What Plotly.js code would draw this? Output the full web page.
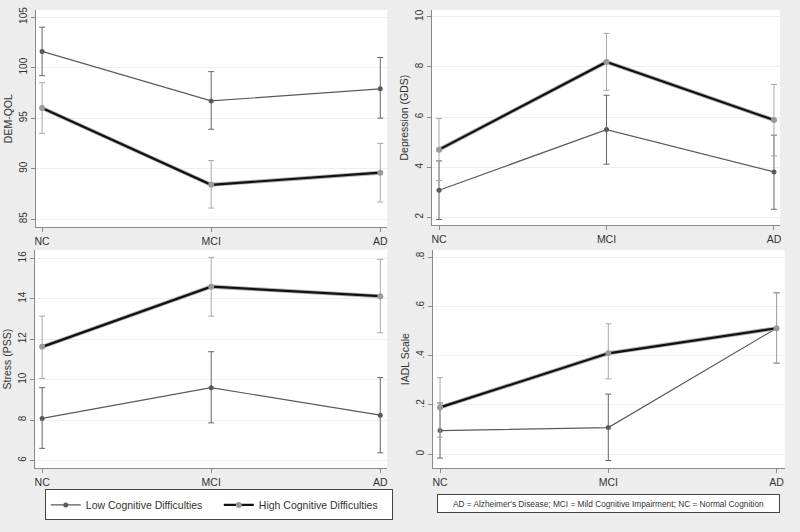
<!DOCTYPE html>
<html>
<head>
<meta charset="utf-8">
<script src="https://cdn.plot.ly/plotly-3.0.1.min.js"></script>
<style>
body { margin: 0; background: #ededed; }
#chart { width: 800px; height: 532px; }
</style>
</head>
<body>
<div id="chart"></div>
<script>
var cats = ['NC', 'MCI', 'AD'];
var groups = ['Low Cognitive Difficulties', 'High Cognitive Difficulties'];

// DEM-QOL (means, upper and lower limits)
var qolLow = [101.6, 96.7, 97.9];
var qolLowUp = [104.0, 99.6, 101.0];
var qolLowDn = [99.2, 93.9, 95.0];
var qolHigh = [96.0, 88.4, 89.6];
var qolHighUp = [98.5, 90.8, 92.5];
var qolHighDn = [93.5, 86.1, 86.7];

// Depression (GDS)
var gdsLow = [3.08, 5.5, 3.81];
var gdsLowUp = [4.25, 6.87, 5.28];
var gdsLowDn = [1.91, 4.12, 2.32];
var gdsHigh = [4.7, 8.2, 5.88];
var gdsHighUp = [5.94, 9.34, 7.3];
var gdsHighDn = [3.47, 7.07, 4.45];

// Stress (PSS)
var pssLow = [8.08, 9.6, 8.24];
var pssLowUp = [9.6, 11.38, 10.1];
var pssLowDn = [6.6, 7.86, 6.38];
var pssHigh = [11.62, 14.6, 14.13];
var pssHighUp = [13.14, 16.05, 15.95];
var pssHighDn = [10.06, 13.14, 12.32];

// IADL Scale
var iadlLow = [0.096, 0.108, 0.512];
var iadlLowUp = [0.208, 0.244, 0.656];
var iadlLowDn = [-0.016, -0.026, 0.37];
var iadlHigh = [0.19, 0.41, 0.512];
var iadlHighUp = [0.311, 0.53, 0.656];
var iadlHighDn = [0.069, 0.306, 0.37];

var qolTicks = [85, 90, 95, 100, 105];
var gdsTicks = [2, 4, 6, 8, 10];
var pssTicks = [6, 8, 10, 12, 14, 16];
var iadlTicks = [0, 0.2, 0.4, 0.6, 0.8];
var iadlTickText = ['0', '.2', '.4', '.6', '.8'];

var noteText = "AD = Alzheimer's Disease; MCI = Mild Cognitive Impairment; NC = Normal Cognition";

function diff(a, b) {
	var out = [];
	for (var i = 0; i < a.length; i++) {
		out.push(Math.abs(a[i] - b[i]));
	}
	return out;
}

function panelTraces(n, low, lowUp, lowDn, high, highUp, highDn, legend) {
	var xa = 'x' + (n == 1 ? '' : n);
	var ya = 'y' + (n == 1 ? '' : n);
	var lowTrace = {
		x: cats, y: low, xaxis: xa, yaxis: ya,
		type: 'scatter', mode: 'lines+markers',
		name: groups[0], legendgroup: 'low', showlegend: legend,
		line: {color: '#5a5a5a', width: 1.2},
		marker: {color: '#5a5a5a', size: 5},
		error_y: {type: 'data', symmetric: false, array: diff(lowUp, low), arrayminus: diff(low, lowDn),
			color: '#666666', thickness: 1, width: 3}
	};
	// grey line under the black one, the way the original draws the high group
	var highShadow = {
		x: cats, y: high, xaxis: xa, yaxis: ya,
		type: 'scatter', mode: 'lines',
		name: groups[1], legendgroup: 'high', showlegend: false, hoverinfo: 'skip',
		line: {color: '#b0b0b0', width: 4},
		error_y: {type: 'data', symmetric: false, array: diff(highUp, high), arrayminus: diff(high, highDn),
			color: '#a8a8a8', thickness: 1, width: 3}
	};
	var highTrace = {
		x: cats, y: high, xaxis: xa, yaxis: ya,
		type: 'scatter', mode: 'lines+markers',
		name: groups[1], legendgroup: 'high', showlegend: legend,
		line: {color: '#111111', width: 2.2},
		marker: {color: '#9a9a9a', size: 6}
	};
	return [lowTrace, highShadow, highTrace];
}

function xAxis(domain, range, anchor) {
	return {
		domain: domain, range: range, anchor: anchor, type: 'category',
		showline: true, linecolor: '#8a8a8a', linewidth: 1,
		ticks: 'outside', ticklen: 4, tickcolor: '#8a8a8a',
		showgrid: false, zeroline: false,
		tickfont: {family: 'Liberation Sans, Arial', size: 10.5, color: '#333'}
	};
}

function yAxis(domain, range, anchor, vals, text, title) {
	return {
		domain: domain, range: range, anchor: anchor,
		tickvals: vals, ticktext: text, tickangle: -90,
		showline: true, linecolor: '#8a8a8a', linewidth: 1,
		ticks: 'outside', ticklen: 4, tickcolor: '#8a8a8a',
		showgrid: true, gridcolor: '#efefef', zeroline: false,
		tickfont: {family: 'Liberation Sans, Arial', size: 10, color: '#333'},
		title: {text: title, standoff: 3, font: {family: 'Liberation Sans, Arial', size: 10.5, color: '#333'}}
	};
}

var data = [];
data = data.concat(panelTraces(1, qolLow, qolLowUp, qolLowDn, qolHigh, qolHighUp, qolHighDn, true));
data = data.concat(panelTraces(2, gdsLow, gdsLowUp, gdsLowDn, gdsHigh, gdsHighUp, gdsHighDn, false));
data = data.concat(panelTraces(3, pssLow, pssLowUp, pssLowDn, pssHigh, pssHighUp, pssHighDn, false));
data = data.concat(panelTraces(4, iadlLow, iadlLowUp, iadlLowDn, iadlHigh, iadlHighUp, iadlHighDn, false));

var layout = {
	width: 800, height: 532,
	margin: {l: 0, r: 0, t: 0, b: 0},
	paper_bgcolor: '#ededed',
	plot_bgcolor: '#ffffff',
	font: {family: 'Liberation Sans, Arial', color: '#333'},
	showlegend: true,
	legend: {
		orientation: 'h', x: 0.056, y: 0.08, xanchor: 'left', yanchor: 'top',
		bgcolor: '#ffffff', bordercolor: '#444', borderwidth: 1,
		entrywidth: 128, entrywidthmode: 'pixels',
		font: {size: 10.5, color: '#333'}, traceorder: 'normal'
	},
	xaxis: xAxis([0.045, 0.484], [-0.036, 2.041], 'y'),
	yaxis: yAxis([0.573, 0.981], [84.21, 105.69], 'x', qolTicks, qolTicks.map(String), 'DEM-QOL'),
	xaxis2: xAxis([0.54, 0.975], [-0.042, 2.036], 'y2'),
	yaxis2: yAxis([0.577, 0.981], [1.69, 10.27], 'x2', gdsTicks, gdsTicks.map(String), 'Depression (GDS)'),
	xaxis3: xAxis([0.044, 0.484], [-0.041, 2.041], 'y3'),
	yaxis3: yAxis([0.12, 0.53], [5.62, 16.41], 'x3', pssTicks, pssTicks.map(String), 'Stress (PSS)'),
	xaxis4: xAxis([0.541, 0.981], [-0.043, 2.049], 'y4'),
	yaxis4: yAxis([0.12, 0.53], [-0.057, 0.83], 'x4', iadlTicks, iadlTickText, 'IADL Scale'),
	annotations: [{
		text: noteText, xref: 'paper', yref: 'paper', x: 0.7606, y: 0.0536,
		xanchor: 'center', yanchor: 'middle', showarrow: false,
		width: 339, height: 15, bgcolor: '#ffffff', bordercolor: '#444', borderwidth: 1, borderpad: 1,
		font: {family: 'Liberation Sans, Arial', size: 8.3, color: '#333'}
	}]
};

Plotly.newPlot(document.getElementById('chart'), data, layout, {staticPlot: true});
</script>
</body>
</html>
